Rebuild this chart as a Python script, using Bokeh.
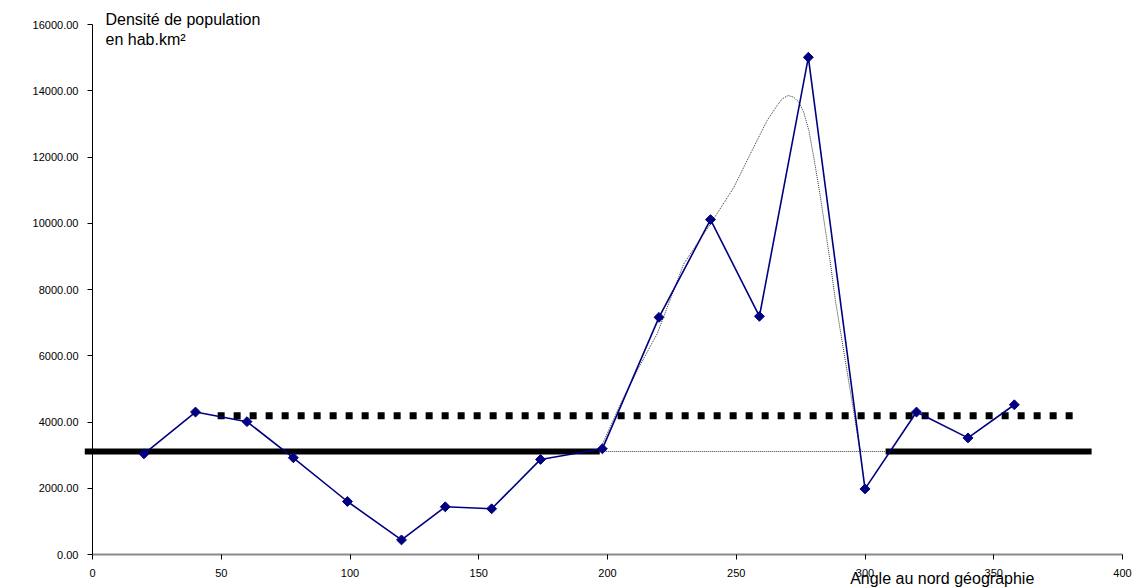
import math
from bokeh.plotting import figure
from bokeh.models import Range1d, FixedTicker, PrintfTickFormatter, Label
from bokeh.embed import file_html
from bokeh.resources import INLINE

# ---- data ----
angles = [20, 40, 60, 78, 99, 120, 137, 155, 174, 198, 220, 240, 259, 278, 300, 320, 340, 358]
density = [3040, 4300, 4010, 2920, 1600, 440, 1440, 1380, 2870, 3190, 7160, 10110, 7190, 15010, 1980, 4300, 3520, 4520]

# thick solid reference level (two pieces)
level_low = 3110
low_left_x = [-3, 197]
low_right_x = [308, 388]

# thick dotted reference level
level_high = 4185
high_x = [48.6, 380.7]

# thin dotted baseline under the fitted bump
bump_base_x = [197, 308]

# fitted bump (dotted freehand curve) points
bump_x = [196.7, 205.7, 212.2, 219.3, 229.6, 240.0, 249.1, 255.5, 262.0, 265.9, 267.8,
          270.2, 272.3, 274.3, 276.2, 278.2, 280.1, 282.7, 286.6, 288.5, 291.7, 294.9, 298.0, 299.0]
bump_y = [3109, 4649, 5654, 6663, 8775, 9983, 11089, 12097, 13102, 13555, 13757,
          13857, 13806, 13655, 13353, 12800, 11994, 10787, 8775, 7668, 6158, 4649, 3191, 3109]

x_ticks = [0, 50, 100, 150, 200, 250, 300, 350, 400]
y_ticks = [0, 2000, 4000, 6000, 8000, 10000, 12000, 14000, 16000]

y_title_1 = "Densité de population"
y_title_2 = "en hab.km²"
x_title = "Angle au nord géographie"

FONT = "Liberation Sans"

# canvas geometry: frame fills the canvas, axes are pinned at x=0 / y=0
W, H = 1132, 588
PX_LEFT, PX_RIGHT = 92, 1122      # pixel columns of x=0 and x=400
PY_BOTTOM, PY_TOP = 554, 24       # pixel rows of y=0 and y=16000
sx = (PX_RIGHT - PX_LEFT) / 400.0
sy = (PY_BOTTOM - PY_TOP) / 16000.0
x_range = Range1d(-PX_LEFT / sx, (W - PX_LEFT) / sx)
y_range = Range1d(-(H - PY_BOTTOM) / sy, PY_BOTTOM / sy)


def xd(px):
    return (px - PX_LEFT) / sx


def yd(py):
    return (PY_BOTTOM - py) / sy


p = figure(width=W, height=H, output_backend="svg", toolbar_location=None,
           x_range=x_range, y_range=y_range, min_border=0)
p.outline_line_color = None
p.xgrid.grid_line_color = None
p.ygrid.grid_line_color = None
p.background_fill_color = "white"
p.border_fill_color = "white"

# axes
p.xaxis.fixed_location = 0
p.yaxis.fixed_location = 0
p.xaxis.bounds = (0, 400)
p.yaxis.bounds = (0, 16000)
p.xaxis.ticker = FixedTicker(ticks=x_ticks)
p.yaxis.ticker = FixedTicker(ticks=y_ticks)
p.yaxis.formatter = PrintfTickFormatter(format="%.2f")
for ax in (p.xaxis[0], p.yaxis[0]):
    ax.minor_tick_line_color = None
    ax.major_tick_in = 0
    ax.major_tick_out = 5
    ax.major_tick_line_color = "black"
    ax.major_label_text_font = FONT
    ax.major_label_text_font_size = "11px"
    ax.major_label_text_color = "black"
p.xaxis.axis_line_color = "#8a8a8a"
p.xaxis.axis_line_width = 2
p.yaxis.axis_line_color = "black"
p.yaxis.axis_line_width = 1
p.xaxis.major_label_standoff = 9
p.yaxis.major_label_standoff = 9

# reference levels
p.line(low_left_x, [level_low, level_low], line_color="black", line_width=6)
p.line(low_right_x, [level_low, level_low], line_color="black", line_width=6)
p.line(high_x, [level_high, level_high], line_color="black", line_width=7, line_dash="7 9")
p.line(bump_base_x, [level_low, level_low], line_color="#333333", line_width=1, line_dash="1 1")

# fitted bump curve
p.line(bump_x, bump_y, line_color="#333333", line_width=1, line_dash="1 1")

# measured series
p.line(angles, density, line_color="#000080", line_width=1.6)
p.scatter(angles, density, marker="square", angle=math.pi / 4, size=7,
          fill_color="#000080", line_color="#000080", line_width=1)

# titles (labels render a few px below their nominal baseline, hence the offsets)
p.add_layout(Label(x=xd(105), y=yd(19), text=y_title_1, text_font=FONT, text_font_size="16px",
                   text_color="black", text_baseline="alphabetic", text_align="left"))
p.add_layout(Label(x=xd(105), y=yd(39), text=y_title_2, text_font=FONT, text_font_size="16px",
                   text_color="black", text_baseline="alphabetic", text_align="left"))
p.add_layout(Label(x=xd(941.7), y=yd(578), text=x_title, text_font=FONT, text_font_size="16px",
                   text_color="black", text_baseline="alphabetic", text_align="center"))

open("out.html", "w").write(file_html(p, INLINE))
